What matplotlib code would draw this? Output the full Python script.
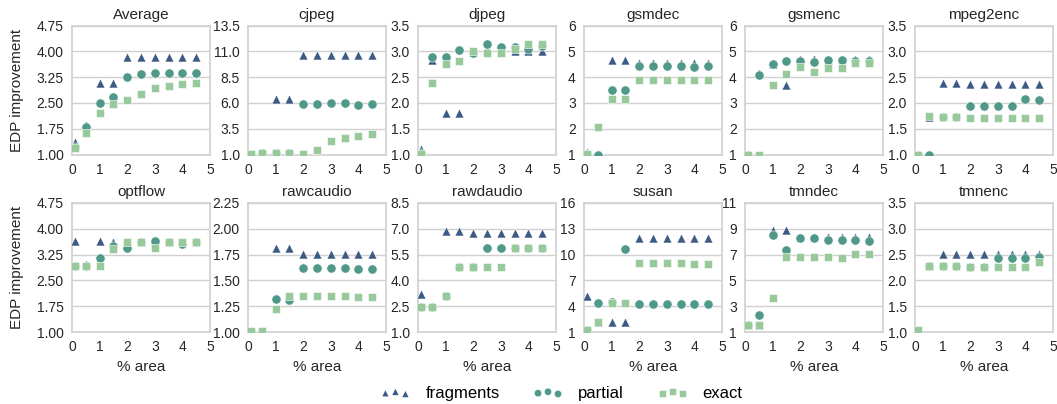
import numpy as np
import matplotlib
matplotlib.use("Agg")
import matplotlib.pyplot as plt

plt.rcParams['font.family'] = ['Liberation Sans', 'DejaVu Sans']

area = [0.1, 0.5, 1, 1.5, 2, 2.5, 3, 3.5, 4, 4.5]

names = ["Average", "cjpeg", "djpeg", "gsmdec", "gsmenc", "mpeg2enc",
         "optflow", "rawcaudio", "rawdaudio", "susan", "tmndec", "tmnenc"]

fragments = {
    "Average":   [1.37, 1.87, 3.09, 3.09, 3.82, 3.82, 3.82, 3.82, 3.82, 3.82],
    "cjpeg":     [1.0, 1.1, 6.36, 6.36, 10.6, 10.6, 10.6, 10.6, 10.6, 10.6],
    "djpeg":     [1.11, 2.83, 1.81, 1.81, 2.98, 3.05, 2.98, 3.01, 3.0, 3.0],
    "gsmdec":    [1.09, 1.0, 4.65, 4.65, 4.55, 4.55, 4.55, 4.55, 4.55, 4.55],
    "gsmenc":    [1.0, 4.14, 4.5, 3.71, 4.69, 4.69, 4.66, 4.69, 4.69, 4.69],
    "mpeg2enc":  [1.0, 1.73, 2.38, 2.38, 2.37, 2.37, 2.37, 2.37, 2.37, 2.37],
    "optflow":   [3.64, 2.97, 3.64, 3.62, 3.62, 3.62, 3.64, 3.62, 3.62, 3.62],
    "rawcaudio": [1.0, 1.0, 1.81, 1.81, 1.76, 1.76, 1.76, 1.76, 1.76, 1.76],
    "rawdaudio": [3.22, 2.5, 6.88, 6.88, 6.76, 6.76, 6.76, 6.76, 6.76, 6.76],
    "susan":     [5.13, 2.12, 2.12, 2.12, 11.9, 11.9, 11.9, 11.9, 11.9, 11.9],
    "tmndec":    [1.51, 1.51, 8.89, 8.89, 8.33, 8.33, 8.33, 8.33, 8.33, 8.33],
    "tmnenc":    [1.0, 2.27, 2.52, 2.52, 2.52, 2.52, 2.52, 2.52, 2.52, 2.52],
}

partial = {
    "Average":   [1.21, 1.81, 2.49, 2.66, 3.26, 3.34, 3.37, 3.37, 3.38, 3.38],
    "cjpeg":     [1.0, 1.1, 1.16, 1.16, 5.9, 5.9, 6.0, 6.0, 5.84, 5.94],
    "djpeg":     [1.03, 2.88, 2.88, 3.02, 2.97, 3.14, 3.08, 3.08, 3.04, 3.1],
    "gsmdec":    [1.03, 1.0, 3.49, 3.49, 4.44, 4.42, 4.42, 4.42, 4.39, 4.42],
    "gsmenc":    [1.0, 4.08, 4.51, 4.62, 4.62, 4.58, 4.66, 4.66, 4.62, 4.64],
    "mpeg2enc":  [1.0, 1.0, 1.73, 1.72, 1.94, 1.94, 1.94, 1.94, 2.08, 2.06],
    "optflow":   [2.92, 2.92, 3.14, 3.5, 3.45, 3.61, 3.64, 3.61, 3.56, 3.61],
    "rawcaudio": [1.0, 1.0, 1.32, 1.31, 1.62, 1.62, 1.62, 1.62, 1.61, 1.61],
    "rawdaudio": [2.48, 2.48, 3.12, 4.8, 4.8, 5.91, 5.91, 5.91, 5.91, 5.91],
    "susan":     [1.27, 4.36, 4.47, 10.7, 4.28, 4.28, 4.28, 4.28, 4.28, 4.2],
    "tmndec":    [1.51, 2.34, 8.53, 7.35, 8.28, 8.25, 8.12, 8.12, 8.12, 8.07],
    "tmnenc":    [1.0, 2.27, 2.27, 2.27, 2.26, 2.25, 2.44, 2.44, 2.44, 2.46],
}

exact = {
    "Average":   [1.19, 1.63, 2.22, 2.46, 2.59, 2.75, 2.93, 3.0, 3.04, 3.07],
    "cjpeg":     [1.03, 1.1, 1.1, 1.1, 1.03, 1.45, 2.27, 2.6, 2.82, 2.98],
    "djpeg":     [1.01, 2.38, 2.75, 2.82, 3.01, 2.97, 2.96, 3.04, 3.14, 3.14],
    "gsmdec":    [1.01, 2.06, 3.17, 3.17, 3.88, 3.88, 3.88, 3.88, 3.88, 3.88],
    "gsmenc":    [1.0, 1.0, 3.71, 4.12, 4.38, 4.19, 4.36, 4.34, 4.56, 4.55],
    "mpeg2enc":  [1.0, 1.74, 1.73, 1.72, 1.71, 1.71, 1.71, 1.71, 1.71, 1.71],
    "optflow":   [2.92, 2.92, 2.91, 3.4, 3.62, 3.61, 3.45, 3.61, 3.61, 3.61],
    "rawcaudio": [1.01, 1.01, 1.22, 1.35, 1.35, 1.35, 1.35, 1.35, 1.34, 1.34],
    "rawdaudio": [2.48, 2.48, 3.12, 4.8, 4.8, 4.8, 4.8, 5.91, 5.91, 5.91],
    "susan":     [1.27, 2.12, 4.36, 4.36, 8.99, 8.99, 8.99, 8.99, 8.9, 8.9],
    "tmndec":    [1.51, 1.51, 3.6, 6.78, 6.78, 6.78, 6.78, 6.73, 7.04, 7.04],
    "tmnenc":    [1.03, 2.27, 2.27, 2.27, 2.26, 2.25, 2.25, 2.25, 2.25, 2.36],
}

ytop = [4.75, 13.5, 3.5, 6, 6, 3.5, 4.75, 2.25, 8.5, 16, 11, 3.5]
yfmt = ["%.2f", "%.1f", "%.1f", "%d", "%d", "%.1f",
        "%.2f", "%.2f", "%.1f", "%d", "%d", "%.1f"]

colors = ["#3c5a84", "#50998a", "#98c99a"]

fig = plt.figure(figsize=(10.57, 4.04), dpi=100)
W, H = 1057.0, 404.0
lefts = [72, 248, 418, 584, 745, 915]
tops = [25.5, 203]
aw, ah = 138, 129

for i, name in enumerate(names):
    r, c = divmod(i, 6)
    ax = fig.add_axes([lefts[c] / W, 1 - (tops[r] + ah) / H, aw / W, ah / H])
    ax.set_facecolor("white")
    ax.scatter(area, fragments[name], marker="^", s=42, color=colors[0],
               edgecolor="white", linewidth=0.4, zorder=3, label="fragments")
    ax.scatter(area, partial[name], marker="o", s=44, color=colors[1],
               edgecolor="white", linewidth=0.4, zorder=3, label="partial")
    ax.scatter(area, exact[name], marker="s", s=40, color=colors[2],
               edgecolor="white", linewidth=0.4, zorder=3, label="exact")
    ax.set_xlim(0, 5)
    ax.set_ylim(1, ytop[i])
    ax.set_xticks([0, 1, 2, 3, 4, 5])
    yt = np.linspace(1, ytop[i], 6)
    ax.set_yticks(yt)
    ax.set_yticklabels([yfmt[i] % v for v in yt])
    ax.tick_params(length=0, labelsize=10, colors="#262626", pad=6)
    ax.grid(axis="y", color="#d0d0d0", linewidth=1)
    ax.set_axisbelow(True)
    for sp in ax.spines.values():
        sp.set_color("#d0d0d0")
        sp.set_linewidth(1.2)
    ax.set_title(name, fontsize=11, color="#262626", pad=5)
    if c == 0:
        ax.set_ylabel("EDP improvement", fontsize=11, color="#262626", labelpad=9)
    if r == 1:
        ax.set_xlabel("% area", fontsize=11, color="#262626")
    if i == 0:
        handles, labels = ax.get_legend_handles_labels()

fig.legend(handles, labels, loc="center", bbox_to_anchor=(0.531, 0.027), ncol=3,
           frameon=False, fontsize=12, scatterpoints=3, handlelength=1.8,
           handletextpad=0.9, columnspacing=2.0, markerscale=0.8)

fig.savefig("out.png", dpi=100, facecolor="white")
